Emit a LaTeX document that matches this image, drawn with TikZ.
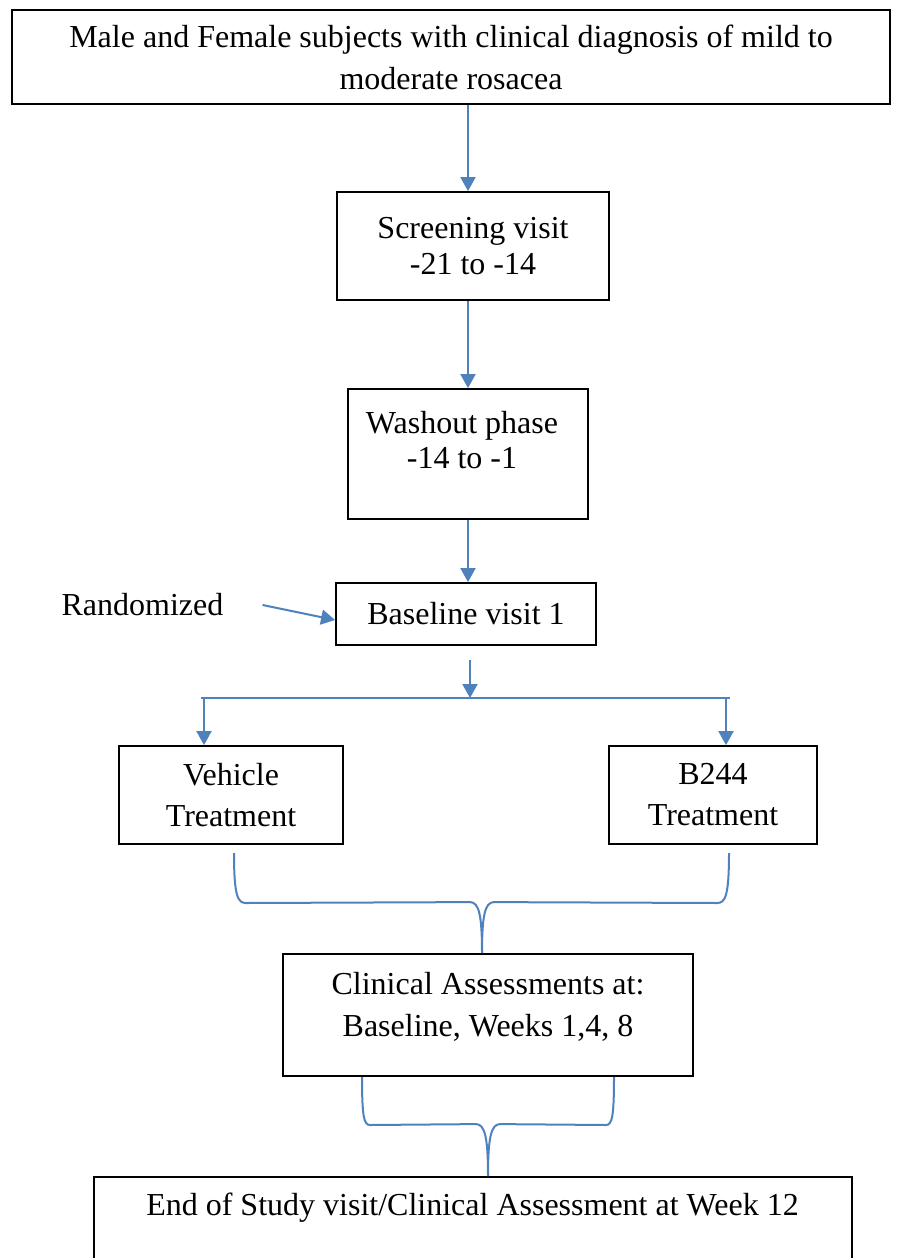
\documentclass[tikz,border=0pt]{standalone}
\usepackage{fontspec}
\setmainfont{Liberation Serif}
\usetikzlibrary{arrows.meta,calc}
\definecolor{linkblue}{RGB}{79,129,189}
\tikzset{
  flowbox/.style={draw=black,line width=1.8pt,inner sep=0pt,align=center},
  flow/.style={draw=linkblue,line width=2pt,-{Triangle[length=14pt,width=15pt]}},
  link/.style={draw=linkblue,line width=2pt},
}
\begin{document}
\begin{tikzpicture}[x=1pt,y=-1pt,every node/.style={font=\fontsize{32}{42}\selectfont}]
\useasboundingbox (0,0) rectangle (898,1258);
\clip (0,0) rectangle (898,1258);
% boxes of the study flow
\node[flowbox,minimum width=878pt,minimum height=94pt] (top) at (451,57) {Male and Female subjects with clinical diagnosis of mild to\\moderate rosacea};
\node[flowbox,minimum width=272pt,minimum height=108pt,font=\fontsize{32}{36}\selectfont] (screen) at (473,246) {Screening visit\\-21 to -14};
\node[flowbox,minimum width=240pt,minimum height=130pt] (wash) at (468,454) {};
\node[align=center,font=\fontsize{32}{35}\selectfont] (washtext) at (462,440) {Washout phase\\-14 to -1};
\node[flowbox,minimum width=260pt,minimum height=62pt] (base) at (466,614) {Baseline visit 1};
\node[inner sep=0pt] (rand) at (142.5,605) {Randomized};
\node[flowbox,minimum width=224pt,minimum height=98pt,font=\fontsize{32}{41}\selectfont] (veh) at (231,795) {Vehicle\\Treatment};
\node[flowbox,minimum width=208pt,minimum height=98pt,font=\fontsize{32}{41}\selectfont] (b244) at (713,795) {B244\\Treatment};
\node[flowbox,minimum width=410pt,minimum height=122pt] (clin) at (488,1015) {};
\node[align=center] (clintext) at (488,1007) {Clinical Assessments at:\\Baseline, Weeks 1,4, 8};
\node[flowbox,minimum width=758pt,minimum height=124pt] (endbox) at (473,1239) {};
\node (endtext) at (472.5,1208) {End of Study visit/Clinical Assessment at Week 12};
% arrows down the middle
\draw[flow] (top.south -| wash.north) -- (wash.north |- screen.north);
\draw[flow] (screen.south -| wash.north) -- (wash.north);
\draw[flow] (wash.south) -- (wash.south |- base.north);
\draw[flow] ([xshift=39pt]rand.east) -- ([yshift=-6pt]base.west);
% split to the two arms
\coordinate (split) at (470,698);
\coordinate (toveh) at (204,698);
\coordinate (tob244) at (726,698);
\draw[flow] (base.south -| split) ++(0,14) -- (split);
\draw[link] ([xshift=-3pt]toveh) -- ([xshift=4pt]tob244);
\draw[flow] (toveh) -- (toveh |- veh.north);
\draw[flow] (tob244) -- (tob244 |- b244.north);
% braces joining the arms
\coordinate (vehout) at (234,853);
\coordinate (b244out) at (729,853);
\coordinate (clintip) at ([xshift=-6pt]clin.north);
\draw[link] (vehout) .. controls +(0,44) and +(-8,0) .. ++(12,50) -- ($(clintip)+(-12,-51)$) .. controls +(9,0) and +(0,-38) .. (clintip);
\draw[link] (b244out) .. controls +(0,44) and +(8,0) .. ++(-12,50) -- ($(clintip)+(12,-51)$) .. controls +(-9,0) and +(0,-38) .. (clintip);
\coordinate (clinL) at (362,1077);
\coordinate (clinR) at (614,1077);
\coordinate (endtip) at (clin.south |- endbox.north);
\draw[link] (clinL) .. controls +(0,40) and +(-6,0) .. ++(8,48) -- ($(endtip)+(-12,-52)$) .. controls +(9,0) and +(0,-38) .. (endtip);
\draw[link] (clinR) .. controls +(0,40) and +(6,0) .. ++(-8,48) -- ($(endtip)+(12,-52)$) .. controls +(-9,0) and +(0,-38) .. (endtip);
\end{tikzpicture}
\end{document}
